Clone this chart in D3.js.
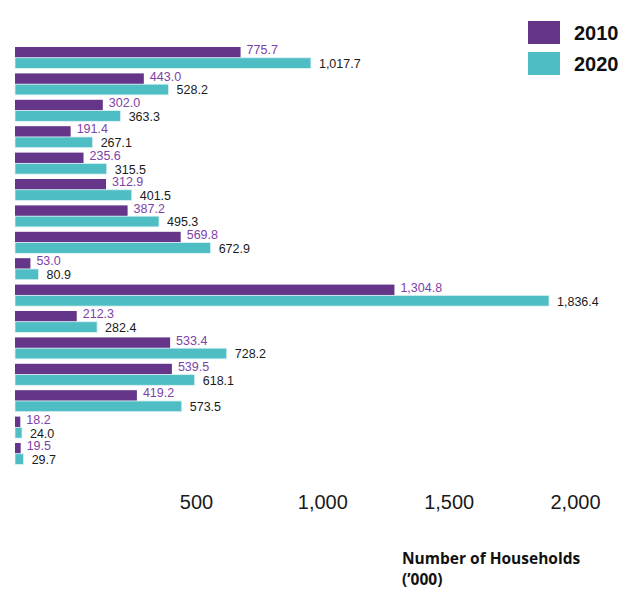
<!DOCTYPE html>
<html>
<head>
<meta charset="utf-8">
<script src="https://cdn.jsdelivr.net/npm/d3@7"></script>
<style>
  html, body { margin: 0; padding: 0; background: #ffffff; }
  svg { display: block; }
</style>
</head>
<body>
<div id="chart"></div>
<script>
// Data (households, '000)
const categories = ["Johor", "Kedah", "Kelantan", "Melaka", "Negeri Sembilan", "Pahang",
  "Pulau Pinang", "Perak", "Perlis", "Selangor", "Terengganu", "Sabah", "Sarawak",
  "W.P. Kuala Lumpur", "W.P. Labuan", "W.P. Putrajaya"];
const values2010 = [775.7, 443.0, 302.0, 191.4, 235.6, 312.9, 387.2, 569.8, 53.0, 1304.8, 212.3, 533.4, 539.5, 419.2, 18.2, 19.5];
const values2020 = [1017.7, 528.2, 363.3, 267.1, 315.5, 401.5, 495.3, 672.9, 80.9, 1836.4, 282.4, 728.2, 618.1, 573.5, 24.0, 29.7];
const seriesNames = ["2010", "2020"];
const tickValues = [500, 1000, 1500, 2000];
const axisTitle = ["Number of Households", "(\u2019000)"];

const W = 629, H = 592;
const colors = { "2010": "#643589", "2020": "#4ebdc4" };
const labelColors = { "2010": "#7d42a8", "2020": "#1a1a1a" };

const svg = d3.select("#chart").append("svg")
  .attr("width", W).attr("height", H)
  .style("font-family", "'Liberation Sans', Arial, sans-serif");

const x = d3.scaleLinear().domain([0, 2000]).range([15, 596.6]);
const y = d3.scaleBand().domain(categories).range([47, 464.5]).paddingInner(0.185).paddingOuter(0);
const ySub = d3.scaleBand().domain(seriesNames).range([0, y.bandwidth()]);

const rows = categories.map((c, i) => ({ cat: c, v: { "2010": values2010[i], "2020": values2020[i] } }));
const fmt = d3.format(",.1f");

const g = svg.append("g");
const row = g.selectAll("g.row").data(rows).join("g")
  .attr("class", "row")
  .attr("transform", d => `translate(0,${y(d.cat)})`);

seriesNames.forEach(s => {
  row.append("rect")
    .attr("x", x(0))
    .attr("y", ySub(s))
    .attr("width", d => x(d.v[s]) - x(0))
    .attr("height", ySub.bandwidth())
    .attr("fill", colors[s])
    .attr("stroke", s === "2020" ? "#dff3f4" : "none")
    .attr("stroke-width", 0.8);
  row.append("text")
    .attr("x", d => x(d.v[s]) + (s === "2010" ? 6 : 8))
    .attr("y", ySub(s) + ySub.bandwidth() - (s === "2010" ? 3.5 : 0.5))
    .attr("font-size", 12.5)
    .attr("font-family", "'Liberation Sans', Arial, sans-serif")
    .attr("fill", labelColors[s])
    .text(d => fmt(d.v[s]));
});

// Axis (tick labels only)
const xTicks = d3.scaleLinear().domain([0, 2000]).range([69.7, 575]);
const axis = svg.append("g")
  .attr("transform", "translate(0,492)")
  .call(d3.axisBottom(xTicks).tickValues(tickValues).tickSize(0).tickFormat(d3.format(",")));
axis.select(".domain").remove();
axis.selectAll("text")
  .attr("font-size", 20)
  .attr("font-family", "'Liberation Sans', Arial, sans-serif")
  .attr("fill", "#1a1a1a");

// Axis title
svg.append("text")
  .attr("font-family", "'Open Sans', sans-serif")
  .attr("font-weight", "bold")
  .attr("font-size", 15.5)
  .attr("fill", "#111")
  .selectAll("tspan").data(axisTitle).join("tspan")
  .attr("x", 402)
  .attr("y", (d, i) => 564 + i * 21)
  .text(d => d);

// Legend
const legend = svg.append("g").attr("transform", "translate(528,21)");
const li = legend.selectAll("g").data(seriesNames).join("g")
  .attr("transform", (d, i) => `translate(0,${i * 31})`);
li.append("rect").attr("width", 32).attr("height", 23).attr("fill", d => colors[d]);
li.append("text")
  .attr("x", 46).attr("y", 19)
  .attr("font-family", "'Liberation Sans Narrow', 'Arial Narrow', 'Liberation Sans', sans-serif")
  .attr("font-weight", "bold")
  .attr("font-size", 20)
  .attr("fill", "#111")
  .text(d => d);
</script>
</body>
</html>
